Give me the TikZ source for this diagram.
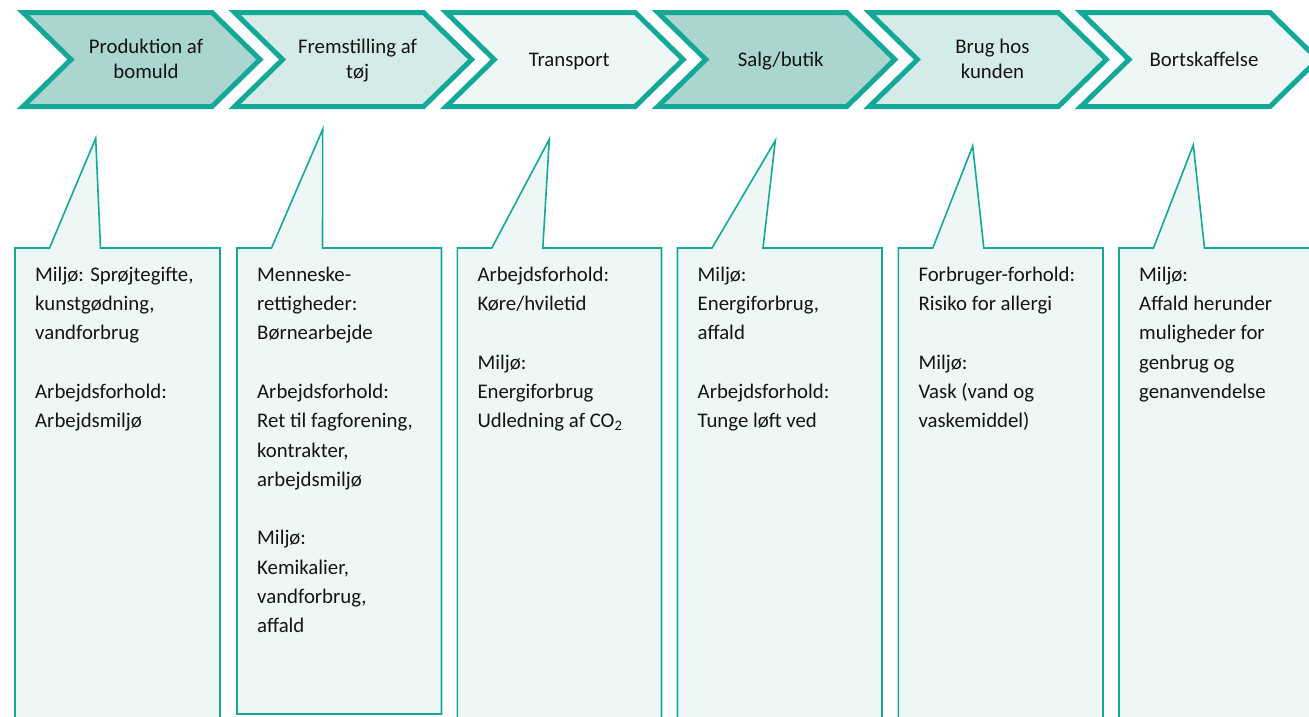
\documentclass[tikz,border=0pt]{standalone}
\usepackage{fontspec}
\setmainfont{Carlito}
\definecolor{tealline}{RGB}{20,168,152}
\definecolor{cdark}{RGB}{170,214,207}
\definecolor{cmid}{RGB}{213,235,232}
\definecolor{clight}{RGB}{238,247,246}
\definecolor{ink}{RGB}{20,20,20}
\begin{document}
\begin{tikzpicture}[x=1pt,y=-1pt,
  chev/.style={draw=tealline, line width=5pt, line join=miter},
  callout/.style={draw=tealline, fill=clight, line width=1.6pt, line join=miter},
  chevtext/.style={font=\fontsize{20.8}{25}\selectfont, align=center, text=ink, inner sep=0pt, anchor=base},
  boxtext/.style={font=\fontsize{20.8}{29.3}\selectfont, align=left, anchor=north west, text=ink, inner sep=0pt}]
\useasboundingbox (0,0) rectangle (1309,716);
% chevrons
\foreach \i/\f/\t/\b in {0/cdark/{Produktion af\\bomuld}/78,1/cmid/{Fremstilling af\\tøj}/78,2/clight/{Transport}/66,3/cdark/{Salg/butik}/66,4/cmid/{Brug hos\\kunden}/78,5/clight/{Bortskaffelse}/66}{
  \pgfmathsetmacro{\L}{20+211.6*\i}
  \filldraw[chev, fill=\f] ({\L+3},12.5) -- ({\L+192},12.5) -- ({\L+240},59.5) -- ({\L+192},106.5) -- ({\L+3},106.5) -- ({\L+51},59.5) -- cycle;
  \node[chevtext] (c\i) at ({\L+126},\b) {\t};
}
% callouts
\filldraw[callout] (15,740) -- (15,248) -- (49.5,248) -- (95.7,138.3) -- (100.5,248) -- (220,248) -- (220,740);
\filldraw[callout] (237,714) -- (237,248) -- (271.5,248) -- (322.7,129.3) -- (322.5,248) -- (441.5,248) -- (441.5,714) -- cycle;
\filldraw[callout] (457.3,740) -- (457.3,248) -- (491.8,248) -- (549.3,139.3) -- (542.8,248) -- (661.5,248) -- (661.5,740);
\filldraw[callout] (677.5,740) -- (677.5,248) -- (712,248) -- (775.3,140.7) -- (763,248) -- (882,248) -- (882,740);
\filldraw[callout] (898.3,740) -- (898.3,248) -- (932.8,248) -- (972.7,146) -- (983.8,248) -- (1103,248) -- (1103,740);
\filldraw[callout] (1119,740) -- (1119,248) -- (1153.5,248) -- (1193.3,145) -- (1204.5,248) -- (1330,248) -- (1330,740);
% box texts
\node[boxtext] (t1) at (35,260.5) {\strut Miljø: Sprøjtegifte,\\kunstgødning,\\vandforbrug\\[29.3pt]Arbejdsforhold:\\Arbejdsmiljø};
\node[boxtext] (t2) at (257,260.5) {\strut Menneske-\\rettigheder:\\Børnearbejde\\[29.3pt]Arbejdsforhold:\\Ret til fagforening,\\kontrakter,\\arbejdsmiljø\\[29.3pt]Miljø:\\Kemikalier,\\vandforbrug,\\affald};
\node[boxtext] (t3) at (477.3,260.5) {\strut Arbejdsforhold:\\Køre/hviletid\\[29.3pt]Miljø:\\Energiforbrug\\Udledning af CO\textsubscript{2}};
\node[boxtext] (t4) at (697.5,260.5) {\strut Miljø:\\Energiforbrug,\\affald\\[29.3pt]Arbejdsforhold:\\Tunge løft ved};
\node[boxtext] (t5) at (918.3,260.5) {\strut Forbruger-forhold:\\Risiko for allergi\\[29.3pt]Miljø:\\Vask (vand og\\vaskemiddel)};
\node[boxtext] (t6) at (1139,260.5) {\strut Miljø:\\Affald herunder\\muligheder for\\genbrug og\\genanvendelse};
\end{tikzpicture}
\end{document}
